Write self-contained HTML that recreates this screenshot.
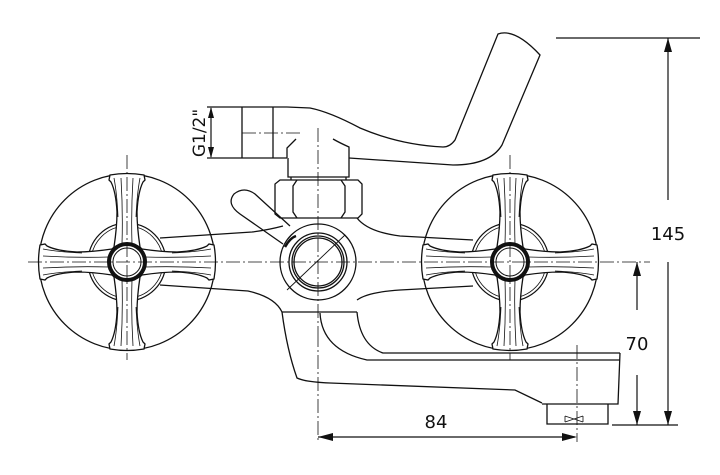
<!DOCTYPE html>
<html><head><meta charset="utf-8"><style>
html,body{margin:0;padding:0;background:#fff;}
svg{display:block;}
text{font-family:"DejaVu Sans","Liberation Sans",sans-serif;fill:#111;}
</style></head><body>
<svg width="720" height="475" viewBox="0 0 720 475" xmlns="http://www.w3.org/2000/svg">
<defs>
<g id="arm">
  <path d="M-13,-15 Q-10,-35 -10,-50 Q-11,-70 -16,-80 L-18,-82 L-17,-87 Q0,-90 17,-87 L18,-82 L16,-80 Q11,-70 10,-50 Q10,-35 13,-15" fill="#fff" stroke="#111" stroke-width="1.3"/>
  <path d="M-5,-18 Q-4,-50 -6,-84 M5,-18 Q4,-50 6,-84 M-9,-45 Q-10,-68 -13,-84 M9,-45 Q10,-68 13,-84" fill="none" stroke="#111" stroke-width="0.8"/>
</g>
<g id="handle">
  <circle r="88" fill="none" stroke="#111" stroke-width="1.3"/>
  <circle r="39" fill="none" stroke="#111" stroke-width="1.2"/>
  <circle r="36" fill="none" stroke="#111" stroke-width="0.8"/>
  <use href="#arm"/>
  <use href="#arm" transform="rotate(90)"/>
  <use href="#arm" transform="rotate(180)"/>
  <use href="#arm" transform="rotate(270)"/>
  <path d="M-13,-15 L13,-15 L15,-13 L15,13 L13,15 L-13,15 L-15,13 L-15,-13 Z" fill="#fff" stroke="#111" stroke-width="1.2"/>
  <circle r="18" fill="#fff" stroke="#111" stroke-width="4"/>
  <circle r="14" fill="#fff" stroke="#111" stroke-width="1"/>
</g>
</defs>
<g fill="none" stroke="#111" stroke-width="1.3">
  <path d="M287,107 L310,108 Q330,112 360,128 Q400,145 443,147 Q450,147 455,140 L498,34 Q515,28 540,55 L502,145 Q490,165 453,165 L349,158"/>
  <path d="M242,107 L287,107 M242,158 L287,158 M242,107 L242,158 M273,107 L273,158"/>
  <path d="M287,158 L287,148 Q292,143 296,139 M349,158 L349,147 Q340,143 333,139"/>
  <path d="M288,158 L288,177 L349,177 L349,158"/>
  <path d="M291,177 L291,180 M346,177 L346,180"/>
  <path d="M280,180 L358,180 L362,184 L362,214 L358,218 L280,218 L275,214 L275,184 Z"/>
  <path d="M297,180 L293,186 L293,212 L297,218 M341,180 L345,186 L345,212 L341,218"/>
  <path d="M283,244 L240,214 Q226,204 234,194 Q244,186 255,194 L290,226"/>
  <circle cx="318" cy="262" r="38"/>
  <circle cx="318" cy="262" r="29"/>
  <circle cx="318" cy="262" r="26"/>
  <circle cx="318" cy="262" r="24"/>
  <path d="M285,247 Q290,238 296,236" stroke-width="2.5"/>
  <path d="M287,290 L345,235" stroke-width="0.9"/>
  <path d="M160,238 L252,232 Q268,230 283,226"/>
  <path d="M160,285 L248,291 Q275,297 282,312 L357,312"/>
  <path d="M357,218 Q368,232 400,236 L473,240"/>
  <path d="M357,300 Q368,292 400,290 L473,286"/>
  <path d="M282,312 Q287,350 297,378 Q305,382 330,383 L515,390 L542,403"/>
  <path d="M320,313 Q322,350 367,360 L620,360"/>
  <path d="M357,312 Q360,345 383,353 L620,353"/>
  <path d="M620,353 L618,404 L542,404"/>
  <path d="M547,404 L547,424 L608,424 L608,404"/>
  <path d="M565,416 L583,422 M565,422 L583,416 M565,416 L565,422 M583,416 L583,422" stroke-width="0.8"/>
</g>
<use href="#handle" x="127" y="262"/>
<use href="#handle" x="510" y="262"/>
<g stroke="#111" stroke-width="0.8" stroke-dasharray="14,3,2,3" fill="none">
  <path d="M28,262 L650,262"/>
  <path d="M127,155 L127,360 M510,155 L510,360"/>
  <path d="M318,128 L318,333 M318,333 L318,440"/>
  <path d="M577,345 L577,442"/>
  <path d="M242,133 L300,133"/>
</g>
<g stroke="#111" stroke-width="1.2" fill="none">
  <path d="M556,38 L700,38 M612,425 L678,425"/>
  <path d="M668,38 L668,200 M668,262 L668,425"/>
  <path d="M637,262 L637,310 M637,375 L637,425"/>
  <path d="M318,437 L575,437"/>
  <path d="M207,107 L242,107 M207,158 L242,158 M211,108 L211,157"/>
</g>
<g fill="#111">
  <path d="M668,38 L664,52 L672,52 Z M668,425 L664,411 L672,411 Z"/>
  <path d="M637,262 L633,276 L641,276 Z M637,425 L633,411 L641,411 Z"/>
  <path d="M318,437 L333,433 L333,441 Z M577,437 L562,433 L562,441 Z"/>
  <path d="M211,107 L208,118 L214,118 Z M211,158 L208,147 L214,147 Z"/>
</g>
<text x="668" y="240" font-size="18" text-anchor="middle">145</text>
<text x="637" y="350" font-size="18" text-anchor="middle">70</text>
<text x="436" y="428" font-size="18" text-anchor="middle">84</text>
<text transform="translate(205,133) rotate(-90)" font-size="17" text-anchor="middle">G1/2"</text>
</svg>
</body></html>
